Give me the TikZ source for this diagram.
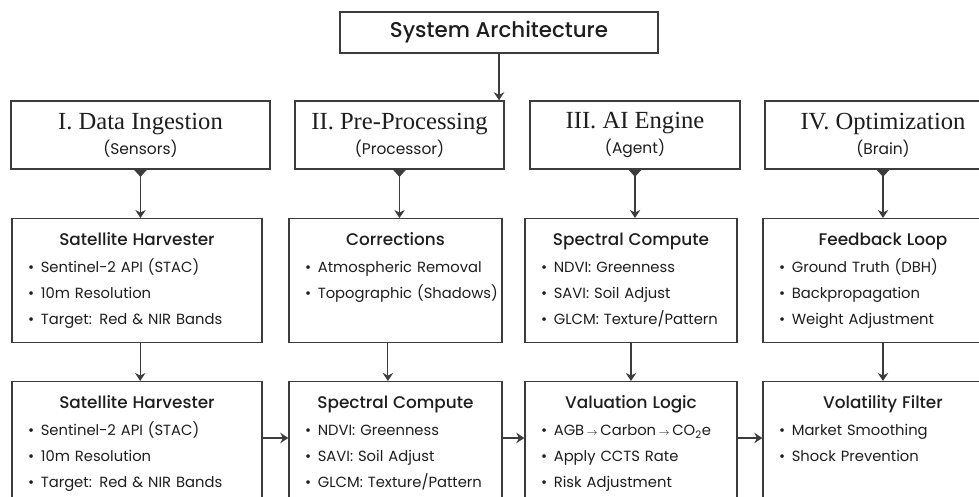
\documentclass[tikz,border=0pt]{standalone}
\usepackage{fontspec}
\setsansfont{Poppins}[BoldFont={Poppins Medium}]
\newfontfamily\headserif{Liberation Serif}
\usetikzlibrary{positioning,arrows.meta}

\definecolor{linegray}{HTML}{3C3C3C}
\definecolor{inkgray}{HTML}{1E1E1E}

\newcommand{\stagetext}[2]{{\headserif\fontsize{17.5}{20}\selectfont #1}\\[3pt]{\sffamily\fontsize{11}{12}\selectfont #2}}
\newcommand{\modtext}[3]{\parbox[t][#1][t]{\linewidth}{\centering\bfseries\fontsize{12}{18.4}\selectfont #2\par\vspace{1pt}\raggedright\mdseries\fontsize{10.5}{18.4}\selectfont #3}}
\newcommand{\blt}[1]{\par\hspace*{0.15cm}\makebox[0.32cm][l]{\textbullet}\mbox{#1}}

\begin{document}
\begin{tikzpicture}[
    title/.style={rectangle, draw=linegray, line width=1pt, minimum width=7.95cm, minimum height=1.025cm, text=inkgray, font=\sffamily\bfseries\fontsize{15.2}{17}\selectfont},
    stage/.style={rectangle, draw=linegray, line width=1pt, minimum height=1.7cm, align=center, text=inkgray},
    module/.style={rectangle, draw=linegray, line width=1pt, anchor=north, align=left, inner xsep=0.25cm, inner ysep=0.35cm, text=inkgray, font=\sffamily\fontsize{10.5}{18.4}\selectfont},
    arrow/.style={-{Stealth[length=0.2cm, width=0.26cm]}, draw=linegray, line width=0.8pt},
    feed/.style={{Triangle[reversed, length=0.18cm, width=0.32cm]}-{Stealth[length=0.2cm, width=0.26cm]}, draw=linegray, line width=0.8pt}
]

\fill[white] (0,0) rectangle (24.475,-12.425);
\useasboundingbox (0,0) rectangle (24.475,-12.425);

\node[title] (sysarch) at (12.475,-0.8125) {System Architecture};

% Stages
\node[stage, minimum width=6.475cm] (ingest) at (3.5125,-3.375) {\stagetext{I. Data Ingestion}{(Sensors)}};
\node[stage, minimum width=5.225cm] (preproc) at (9.9875,-3.375) {\stagetext{II. Pre-Processing}{(Processor)}};
\node[stage, minimum width=5.25cm] (aiengine) at (15.875,-3.375) {\stagetext{III. AI Engine}{(Agent)}};
\node[stage, minimum width=5.9cm] (optim) at (22.075,-3.375) {\stagetext{IV. Optimization}{(Brain)}};

% First modules
\node[module, text width=5.75cm] (harvest) at (3.425,-5.45) {\modtext{2.4cm}{Satellite Harvester}{%
    \blt{Sentinel-2 API (STAC)}\blt{10m Resolution}\blt{Target: Red \& NIR Bands}}};
\node[module, text width=4.825cm] (correct) at (9.8875,-5.45) {\modtext{2.4cm}{Corrections}{%
    \blt{Atmospheric Removal}\blt{Topographic (Shadows)}}};
\node[module, text width=4.8cm] (spectral) at (15.775,-5.45) {\modtext{2.4cm}{Spectral Compute}{%
    \blt{NDVI: Greenness}\blt{SAVI: Soil Adjust}\blt{GLCM: Texture/Pattern}}};
\node[module, text width=5.5cm] (feedback) at (22.075,-5.45) {\modtext{2.4cm}{Feedback Loop}{%
    \blt{Ground Truth (DBH)}\blt{Backpropagation}\blt{Weight Adjustment}}};

% Second modules
\node[module, text width=5.75cm] (harvest2) at (3.425,-9.525) {\modtext{2.6cm}{Satellite Harvester}{%
    \blt{Sentinel-2 API (STAC)}\blt{10m Resolution}\blt{Target: Red \& NIR Bands}}};
\node[module, text width=4.825cm] (spectral2) at (9.8875,-9.525) {\modtext{2.6cm}{Spectral Compute}{%
    \blt{NDVI: Greenness}\blt{SAVI: Soil Adjust}\blt{GLCM: Texture/Pattern}}};
\node[module, text width=4.8cm] (valuation) at (15.775,-9.525) {\modtext{2.6cm}{Valuation Logic}{%
    \blt{AGB\,$\scriptstyle\rightarrow$\,Carbon\,$\scriptstyle\rightarrow$\,CO\textsubscript{2}e}\blt{Apply CCTS Rate}\blt{Risk Adjustment}}};
\node[module, text width=5.5cm] (volatility) at (22.075,-9.525) {\modtext{2.6cm}{Volatility Filter}{%
    \blt{Market Smoothing}\blt{Shock Prevention}}};

\draw[arrow] (sysarch.south) -- (sysarch.south |- preproc.north);

\draw[feed] (ingest.south) -- (ingest.south |- harvest.north);
\draw[feed] (preproc.south) -- (preproc.south |- correct.north);
\draw[feed] (aiengine.south) -- (aiengine.south |- spectral.north);
\draw[feed] (optim.south) -- (optim.south |- feedback.north);

\draw[arrow] ([xshift=0.08cm]harvest.south) -- ([xshift=0.08cm]harvest.south |- harvest2.north);
\draw[arrow] ([xshift=-0.19cm]correct.south) -- ([xshift=-0.19cm]correct.south |- spectral2.north);
\draw[arrow] (spectral.south) -- (spectral.south |- valuation.north);
\draw[arrow] (feedback.south) -- (feedback.south |- volatility.north);

\draw[arrow] ([yshift=-1.425cm]harvest2.north east) -- ([yshift=-1.425cm]spectral2.north west);
\draw[arrow] ([yshift=-1.425cm]spectral2.north east) -- ([yshift=-1.425cm]valuation.north west);
\draw[arrow] ([yshift=-1.425cm]valuation.north east) -- ([yshift=-1.425cm]volatility.north west);

\end{tikzpicture}
\end{document}
